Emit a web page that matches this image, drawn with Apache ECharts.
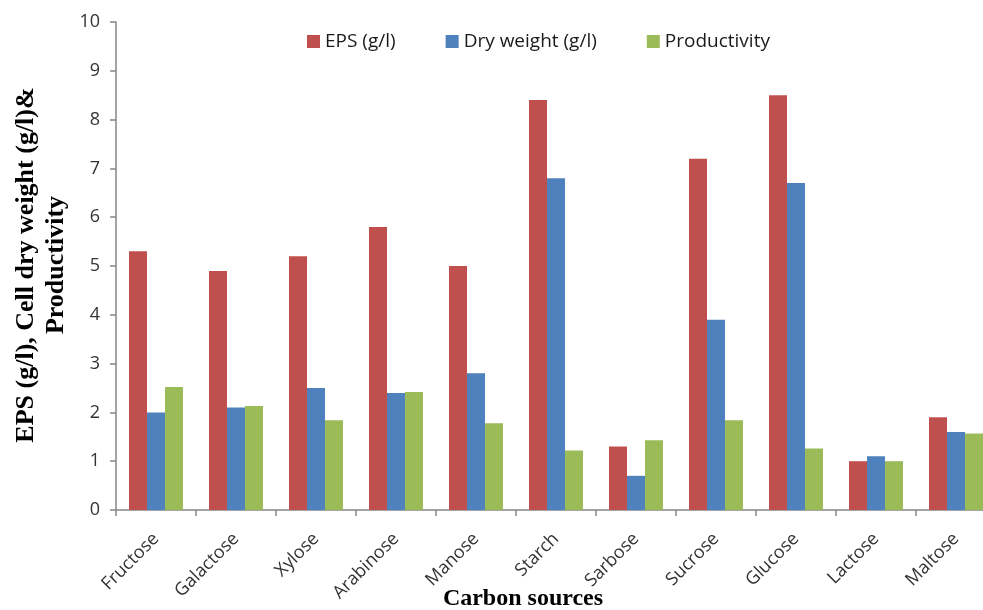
<!DOCTYPE html>
<html>
<head>
<meta charset="utf-8">
<script src="https://cdn.jsdelivr.net/npm/echarts@6/dist/echarts.min.js"></script>
<style>
  html, body { margin: 0; padding: 0; background: #fff; overflow: hidden; }
  /* the plot runs slightly past the right edge of the window, clipping the last group */
  #chart { width: 996px; height: 610px; }
</style>
</head>
<body>
<div id="chart"></div>
<script>
// Carbon sources tested
const categories = ['Fructose', 'Galactose', 'Xylose', 'Arabinose', 'Manose', 'Starch',
  'Sarbose', 'Sucrose', 'Glucose', 'Lactose', 'Maltose'];

// EPS yield (g/l)
const epsValues = [5.3, 4.9, 5.2, 5.8, 5.0, 8.4, 1.3, 7.2, 8.5, 1.0, 1.9];
// Cell dry weight (g/l)
const dryWeightValues = [2.0, 2.1, 2.5, 2.4, 2.8, 6.8, 0.7, 3.9, 6.7, 1.1, 1.6];
// Productivity
const productivityValues = [2.52, 2.13, 1.84, 2.42, 1.78, 1.22, 1.43, 1.84, 1.26, 1.0, 1.57];

const seriesNames = ['EPS (g/l)', 'Dry weight (g/l)', 'Productivity'];
const seriesColors = ['#C0504D', '#4F81BD', '#9BBB59'];

const chart = echarts.init(document.getElementById('chart'), null, { renderer: 'canvas' });

const axisGray = '#868686';
const labelColor = '#333333';
const labelFont = '"Open Sans", "Noto Sans", sans-serif';
const titleFont = '"Liberation Serif", "Times New Roman", serif';

const barSeries = [epsValues, dryWeightValues, productivityValues].map((vals, i) => ({
  name: seriesNames[i],
  type: 'bar',
  data: vals,
  barWidth: 18,
  barGap: '0%',
  itemStyle: { color: seriesColors[i] },
  emphasis: { disabled: true }
}));

chart.setOption({
  animation: false,
  backgroundColor: '#ffffff',
  grid: { left: 116, right: 0, top: 22, bottom: 100, containLabel: false },
  legend: {
    data: seriesNames,
    top: 27,
    left: 302,
    itemWidth: 13,
    itemHeight: 13,
    itemGap: 50,
    icon: 'rect',
    textStyle: { fontFamily: labelFont, fontSize: 19, color: '#1a1a1a' }
  },
  xAxis: {
    type: 'category',
    data: categories,
    axisLine: { lineStyle: { color: axisGray, width: 1.5 } },
    axisTick: { show: true, alignWithLabel: false, length: 6, lineStyle: { color: axisGray, width: 1.5 } },
    axisLabel: {
      rotate: 45,
      interval: 0,
      margin: 26,
      fontFamily: labelFont,
      fontSize: 18,
      color: labelColor
    },
    splitLine: { show: false }
  },
  yAxis: {
    type: 'value',
    min: 0,
    max: 10,
    interval: 1,
    axisLine: { show: true, lineStyle: { color: axisGray, width: 1.5 } },
    axisTick: { show: true, inside: false, length: 6, lineStyle: { color: axisGray, width: 1.5 } },
    axisLabel: {
      margin: 16,
      fontFamily: labelFont,
      fontSize: 18,
      color: labelColor
    },
    splitLine: { show: false }
  },
  graphic: [
    {
      type: 'text',
      x: 41,
      y: 265,
      rotation: Math.PI / 2,
      style: {
        text: 'EPS (g/l), Cell dry weight (g/l)&\nProductivity',
        fontFamily: titleFont,
        fontWeight: 'bold',
        fontSize: 26,
        lineHeight: 30,
        fill: '#000',
        align: 'center',
        verticalAlign: 'middle'
      }
    },
    {
      type: 'text',
      x: 523,
      y: 599,
      style: {
        text: 'Carbon sources',
        fontFamily: titleFont,
        fontWeight: 'bold',
        fontSize: 24,
        fill: '#000',
        align: 'center',
        verticalAlign: 'middle'
      }
    }
  ],
  series: barSeries
});
</script>
</body>
</html>
